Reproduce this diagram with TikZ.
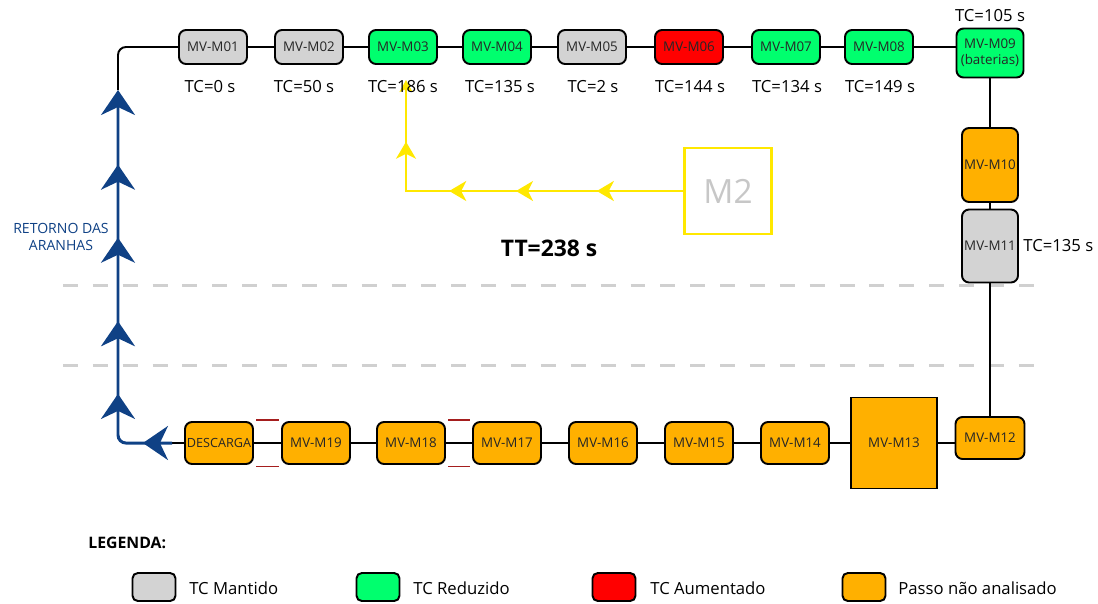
\documentclass[tikz,border=0pt]{standalone}
\usepackage{fontspec}
\setmainfont{Open Sans}
\usepackage{tikz}
\usetikzlibrary{arrows.meta,positioning,decorations.markings}
\usepackage{xcolor}
\definecolor{tcgray}{HTML}{D3D3D3}
\definecolor{tcgreen}{HTML}{00FF6E}
\definecolor{tcred}{HTML}{FF0000}
\definecolor{tcorange}{HTML}{FFB000}
\definecolor{retblue}{HTML}{0F4185}
\definecolor{m2yellow}{HTML}{FFE800}
\definecolor{sepgray}{HTML}{D0D0D0}
\definecolor{joinred}{HTML}{A51E1E}
\tikzset{
  mvbox/.style={draw, rounded corners=4pt, line width=1.1pt, minimum width=1.36cm, minimum height=0.68cm, inner sep=0pt, font=\fontsize{7.6}{9}\selectfont, text=black!85},
  mvline/.style={line width=1.1pt},
  mvlabel/.style={font=\fontsize{9.5}{11}\selectfont, inner sep=0pt},
  retline/.style={draw=retblue, color=retblue, line width=1.7pt, rounded corners=4.5pt},
  rettip/.style={-{Stealth[length=5mm, width=6.8mm, inset=1.6mm]}},
  retmarks/.style={postaction={decorate}, decoration={markings,
    mark=at position 0.072 with {\arrow{Stealth[length=5mm, width=6.8mm, inset=1.6mm]}},
    mark=at position 0.247 with {\arrow{Stealth[length=5mm, width=6.8mm, inset=1.6mm]}},
    mark=at position 0.427 with {\arrow{Stealth[length=5mm, width=6.8mm, inset=1.6mm]}},
    mark=at position 0.634 with {\arrow{Stealth[length=5mm, width=6.8mm, inset=1.6mm]}},
    mark=at position 0.815 with {\arrow{Stealth[length=5mm, width=6.8mm, inset=1.6mm]}}}},
  m2line/.style={draw=m2yellow, color=m2yellow, line width=1.2pt},
  m2marks/.style={postaction={decorate}, decoration={markings,
    mark=at position 0.223 with {\arrow{Stealth[length=3.4mm, width=4mm, inset=1mm]}},
    mark=at position 0.431 with {\arrow{Stealth[length=3.4mm, width=4mm, inset=1mm]}},
    mark=at position 0.603 with {\arrow{Stealth[length=3.4mm, width=4mm, inset=1mm]}},
    mark=at position 0.841 with {\arrow{Stealth[length=3.4mm, width=4mm, inset=1mm]}}}},
  sepline/.style={sepgray, line width=1.7pt, dash pattern=on 8.5pt off 8.5pt},
  joinline/.style={joinred, line width=1pt},
  legbox/.style={draw, rounded corners=3pt, line width=1.1pt, minimum width=0.86cm, minimum height=0.56cm, inner sep=0pt},
  legtext/.style={font=\fontsize{9.5}{11}\selectfont, anchor=west, inner sep=0pt},
}

\begin{document}
\begin{tikzpicture}[x=0.02cm, y=-0.02cm]
  \useasboundingbox (0,0) rectangle (1098,603);

  \draw[sepline] (63,285) -- (1045,285);
  \draw[sepline] (63,365) -- (1045,365);

  \node[mvbox, fill=tcgray] (m01) at (213,47) {MV-M01};
  \node[mvbox, fill=tcgray] (m02) at (309,47) {MV-M02};
  \node[mvbox, fill=tcgreen] (m03) at (403,47) {MV-M03};
  \node[mvbox, fill=tcgreen] (m04) at (497,47) {MV-M04};
  \node[mvbox, fill=tcgray] (m05) at (592,47) {MV-M05};
  \node[mvbox, fill=tcred] (m06) at (689,47) {MV-M06};
  \node[mvbox, fill=tcgreen] (m07) at (786,47) {MV-M07};
  \node[mvbox, fill=tcgreen] (m08) at (879,47) {MV-M08};
  \node[mvbox, fill=tcgreen, minimum width=1.34cm, minimum height=0.98cm, align=center] (m09) at (990,53) {MV-M09\\(baterias)};
  \node[mvbox, fill=tcorange, minimum width=1.12cm, minimum height=1.48cm] (m10) at (990,165) {MV-M10};
  \node[mvbox, fill=tcgray, minimum width=1.12cm, minimum height=1.46cm] (m11) at (990,246) {MV-M11};
  \node[mvbox, fill=tcorange, minimum width=1.38cm, minimum height=0.84cm] (m12) at (990,438) {MV-M12};
  \node[mvbox, fill=tcorange, rounded corners=0pt, minimum width=1.72cm, minimum height=1.82cm] (m13) at (894,443) {MV-M13};
  \node[mvbox, fill=tcorange, minimum height=0.84cm] (m14) at (795,443) {MV-M14};
  \node[mvbox, fill=tcorange, minimum height=0.84cm] (m15) at (699,443) {MV-M15};
  \node[mvbox, fill=tcorange, minimum height=0.84cm] (m16) at (603,443) {MV-M16};
  \node[mvbox, fill=tcorange, minimum height=0.84cm] (m17) at (507,443) {MV-M17};
  \node[mvbox, fill=tcorange, minimum height=0.84cm] (m18) at (411,443) {MV-M18};
  \node[mvbox, fill=tcorange, minimum height=0.84cm] (m19) at (316,443) {MV-M19};
  \node[mvbox, fill=tcorange, minimum height=0.84cm, font=\fontsize{7.2}{8.5}\selectfont] (dsc) at (219,443) {DESCARGA};

  \node[draw=m2yellow, line width=1.2pt, minimum width=1.74cm, minimum height=1.72cm, text=black!22, font=\fontsize{19}{22}\selectfont] (m2) at (728,191) {M2};
  \coordinate (m2out) at (406,80);
  \draw[m2line, -{Stealth[length=2.4mm, width=2.6mm, inset=0.6mm]}, m2marks] (m2.west) -| (m2out);

  \node[mvlabel] (tc01) at (210,87) {TC=0 s};
  \node[mvlabel] (tc02) at (304,87) {TC=50 s};
  \node[mvlabel] (tc03) at (403,87) {TC=186 s};
  \node[mvlabel] (tc04) at (500,87) {TC=135 s};
  \node[mvlabel] (tc05) at (593,87) {TC=2 s};
  \node[mvlabel] (tc06) at (690,87) {TC=144 s};
  \node[mvlabel] (tc07) at (787,87) {TC=134 s};
  \node[mvlabel] (tc08) at (880,87) {TC=149 s};
  \node[mvlabel] (tc09) at (990,16) {TC=105 s};
  \node[mvlabel, anchor=west] (tc11) at (1023,246) {TC=135 s};

  \node[font=\bfseries\fontsize{13}{15}\selectfont, inner sep=0pt] (tt) at (549,248) {TT=238 s};

  \draw[mvline] (m01) -- (m02);
  \draw[mvline] (m02) -- (m03);
  \draw[mvline] (m03) -- (m04);
  \draw[mvline] (m04) -- (m05);
  \draw[mvline] (m05) -- (m06);
  \draw[mvline] (m06) -- (m07);
  \draw[mvline] (m07) -- (m08);
  \draw[mvline] (m08.east) -- (m08.east -| m09.west);
  \draw[mvline] (m09) -- (m10);
  \draw[mvline] (m10) -- (m11);
  \draw[mvline] (m11) -- (m12);
  \draw[mvline] (m13.east) -- (m13.east -| m12.west);
  \draw[mvline] (m14) -- (m13);
  \draw[mvline] (m15) -- (m14);
  \draw[mvline] (m16) -- (m15);
  \draw[mvline] (m17) -- (m16);
  \draw[mvline] (m18) -- (m17);
  \draw[mvline] (m19) -- (m18);
  \draw[mvline] (dsc) -- (m19);

  \draw[joinline] ([shift={(1.2pt,0.8pt)}]dsc.north east) -- ([shift={(-1.2pt,0.8pt)}]m19.north west);
  \draw[joinline] ([shift={(1.2pt,-0.8pt)}]dsc.south east) -- ([shift={(-1.2pt,-0.8pt)}]m19.south west);
  \draw[joinline] ([shift={(1.2pt,0.8pt)}]m18.north east) -- ([shift={(-1.2pt,0.8pt)}]m17.north west);
  \draw[joinline] ([shift={(1.2pt,-0.8pt)}]m18.south east) -- ([shift={(-1.2pt,-0.8pt)}]m17.south west);

  \coordinate (retin) at (172,443);
  \coordinate (retout) at (118,90);
  \draw[mvline, rounded corners=4.5pt] (m01.west) -| (retout);
  \draw[mvline] (dsc.west) -- (retin);
  \draw[retline, rettip, retmarks] (retin) -| (retout);
  \node[text=retblue, font=\fontsize{8}{9.5}\selectfont, align=center, inner sep=0pt] (ret) at (61,237) {RETORNO DAS\\ARANHAS};

  \node[font=\bfseries\fontsize{9}{11}\selectfont, anchor=west, inner sep=0pt] (leg) at (88,543) {LEGENDA:};
  \node[legbox, fill=tcgray] (lgray) at (154,587) {};
  \node[legtext] (tgray) at (189,588) {TC Mantido};
  \node[legbox, fill=tcgreen] (lgreen) at (378,587) {};
  \node[legtext] (tgreen) at (413,588) {TC Reduzido};
  \node[legbox, fill=tcred] (lred) at (614,587) {};
  \node[legtext] (tred) at (650,588) {TC Aumentado};
  \node[legbox, fill=tcorange] (lorange) at (864,587) {};
  \node[legtext] (torange) at (898,588) {Passo não analisado};
\end{tikzpicture}
\end{document}
